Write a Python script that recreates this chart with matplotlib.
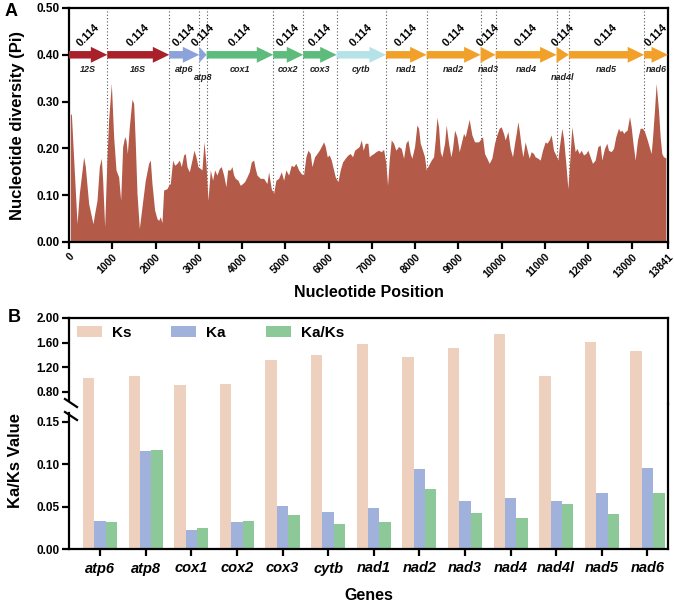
import matplotlib
matplotlib.use("Agg")
import matplotlib.pyplot as plt
from matplotlib.patches import FancyArrow
from matplotlib.lines import Line2D

plt.rcParams['font.family'] = ['Liberation Sans', 'DejaVu Sans']
plt.rcParams['font.weight'] = 'bold'
plt.rcParams['axes.labelweight'] = 'bold'

# ---- Panel A : sliding window nucleotide diversity ----
pos = [31, 54, 185, 239, 339, 377, 454, 554, 593, 647, 701, 747, 778, 824, 878, 916, 978,
       1032, 1086, 1147, 1194, 1240, 1286, 1317, 1348, 1394, 1455, 1494, 1532, 1571, 1625,
       1686, 1763, 1840, 1879, 1917, 1979, 2033, 2071, 2110, 2148, 2187, 2264, 2302, 2341,
       2395, 2441, 2495, 2549, 2595, 2649, 2687, 2726, 2780, 2841, 2888, 2934, 2980, 3034,
       3072, 3119, 3165, 3211, 3265, 3319, 3365, 3419, 3473, 3519, 3573, 3627, 3665, 3727,
       3765, 3804, 3842, 3904, 3958, 4012, 4058, 4112, 4166, 4212, 4266, 4304, 4343, 4420,
       4497, 4574, 4612, 4674, 4728, 4781, 4843, 4905, 4959, 5012, 5074, 5136, 5190, 5243,
       5305, 5367, 5420, 5474, 5521, 5575, 5613, 5675, 5729, 5782, 5829, 5883, 5921, 5967,
       6013, 6060, 6114, 6152, 6214, 6268, 6321, 6383, 6445, 6499, 6552, 6599, 6653, 6706,
       6753, 6799, 6845, 6907, 6937, 6984, 7038, 7091, 7153, 7215, 7269, 7322, 7361, 7399,
       7446, 7500, 7553, 7615, 7677, 7731, 7784, 7831, 7885, 7923, 7985, 8039, 8077, 8116,
       8169, 8216, 8254, 8308, 8370, 8424, 8462, 8501, 8539, 8578, 8616, 8678, 8716, 8770,
       8824, 8862, 8909, 8963, 9016, 9063, 9117, 9155, 9247, 9309, 9371, 9463, 9525, 9555,
       9602, 9656, 9709, 9771, 9833, 9887, 9940, 9987, 10041, 10079, 10141, 10195, 10248,
       10295, 10333, 10372, 10402, 10449, 10487, 10541, 10587, 10633, 10680, 10734, 10772,
       10834, 10888, 10941, 11003, 11042, 11095, 11142, 11196, 11249, 11296, 11326, 11388,
       11427, 11480, 11527, 11557, 11619, 11658, 11696, 11735, 11788, 11835, 11889, 11942,
       11989, 12043, 12096, 12158, 12220, 12274, 12312, 12374, 12428, 12466, 12528, 12582,
       12635, 12697, 12736, 12774, 12820, 12851, 12897, 12951, 12990, 13028, 13082, 13136,
       13198, 13251, 13298, 13352, 13405, 13452, 13482, 13529, 13567, 13621, 13660, 13698,
       13737, 13790]
pi = [0.271, 0.275, 0.039, 0.104, 0.182, 0.161, 0.082, 0.039, 0.061, 0.089, 0.161, 0.179,
      0.132, 0.032, 0.182, 0.261, 0.339, 0.225, 0.154, 0.139, 0.089, 0.204, 0.225, 0.218,
      0.189, 0.246, 0.305, 0.296, 0.211, 0.104, 0.029, 0.075, 0.132, 0.168, 0.175, 0.125,
      0.068, 0.050, 0.046, 0.054, 0.041, 0.111, 0.114, 0.121, 0.125, 0.175, 0.164, 0.168,
      0.175, 0.161, 0.186, 0.189, 0.161, 0.150, 0.175, 0.196, 0.182, 0.161, 0.157, 0.154,
      0.214, 0.168, 0.089, 0.154, 0.132, 0.154, 0.143, 0.157, 0.161, 0.143, 0.118, 0.154,
      0.154, 0.161, 0.143, 0.136, 0.132, 0.121, 0.125, 0.129, 0.139, 0.150, 0.171, 0.175,
      0.157, 0.143, 0.136, 0.136, 0.125, 0.150, 0.114, 0.104, 0.132, 0.136, 0.150, 0.132,
      0.154, 0.143, 0.164, 0.161, 0.168, 0.154, 0.146, 0.143, 0.182, 0.196, 0.189, 0.161,
      0.182, 0.189, 0.196, 0.204, 0.214, 0.204, 0.182, 0.186, 0.175, 0.154, 0.139, 0.129,
      0.154, 0.171, 0.179, 0.186, 0.189, 0.182, 0.196, 0.200, 0.204, 0.218, 0.196, 0.211,
      0.211, 0.182, 0.186, 0.189, 0.193, 0.196, 0.193, 0.198, 0.168, 0.121, 0.175, 0.218,
      0.211, 0.196, 0.204, 0.200, 0.179, 0.211, 0.218, 0.189, 0.179, 0.204, 0.250, 0.243,
      0.211, 0.196, 0.182, 0.154, 0.164, 0.175, 0.182, 0.218, 0.266, 0.246, 0.193, 0.182,
      0.211, 0.250, 0.211, 0.182, 0.200, 0.239, 0.225, 0.193, 0.211, 0.232, 0.225, 0.262,
      0.229, 0.214, 0.214, 0.221, 0.225, 0.189, 0.179, 0.168, 0.179, 0.211, 0.229, 0.243,
      0.246, 0.232, 0.218, 0.236, 0.200, 0.182, 0.211, 0.232, 0.257, 0.239, 0.204, 0.182,
      0.214, 0.196, 0.179, 0.193, 0.189, 0.182, 0.179, 0.175, 0.196, 0.214, 0.211, 0.218,
      0.229, 0.196, 0.186, 0.175, 0.200, 0.243, 0.221, 0.168, 0.114, 0.154, 0.246, 0.218,
      0.193, 0.200, 0.189, 0.196, 0.186, 0.189, 0.196, 0.182, 0.168, 0.175, 0.204, 0.207,
      0.175, 0.200, 0.211, 0.196, 0.193, 0.200, 0.225, 0.243, 0.236, 0.239, 0.232, 0.236,
      0.239, 0.268, 0.246, 0.214, 0.175, 0.218, 0.243, 0.243, 0.236, 0.221, 0.204, 0.189,
      0.221, 0.282, 0.339, 0.282, 0.225, 0.189, 0.182, 0.180]

genes_a = ['12S', '16S', 'atp6', 'atp8', 'cox1', 'cox2', 'cox3', 'cytb', 'nad1', 'nad2',
           'nad3', 'nad4', 'nad4l', 'nad5', 'nad6']
gene_start = [0, 885, 2317, 3010, 3180, 4719, 5412, 6184, 7323, 8263, 9510, 9857, 11266,
              11550, 13290]
gene_end = [885, 2317, 3010, 3180, 4719, 5412, 6184, 7323, 8263, 9510, 9857, 11266, 11550,
            13290, 13841]
gene_pi = [0.114] * 15
gene_colors = ['#A8202A', '#A8202A', '#8CA2DA', '#8CA2DA', '#5DBB7B', '#5DBB7B', '#5DBB7B',
               '#B4E2E6', '#F1A02A', '#F1A02A', '#F1A02A', '#F1A02A', '#F1A02A', '#F1A02A',
               '#F1A02A']
xticks_a = [0, 1000, 2000, 3000, 4000, 5000, 6000, 7000, 8000, 9000, 10000, 11000, 12000,
            13000, 13841]

# ---- Panel B : Ka / Ks ----
genes_b = ['atp6', 'atp8', 'cox1', 'cox2', 'cox3', 'cytb', 'nad1', 'nad2', 'nad3', 'nad4',
           'nad4l', 'nad5', 'nad6']
ks = [1.03, 1.05, 0.91, 0.93, 1.32, 1.40, 1.57, 1.36, 1.51, 1.74, 1.05, 1.61, 1.47]
ka = [0.0332, 0.1152, 0.0227, 0.0313, 0.0508, 0.0434, 0.0484, 0.0941, 0.0566, 0.0598,
      0.0566, 0.0664, 0.0953]
kaks = [0.0316, 0.1164, 0.0246, 0.0332, 0.0402, 0.0297, 0.0313, 0.0703, 0.0418, 0.0359,
        0.0535, 0.0414, 0.0660]

W, H = 674, 604
fig = plt.figure(figsize=(W / 100, H / 100), dpi=100)


def box(l, t, r, b):
    return [l / W, 1 - b / H, (r - l) / W, (b - t) / H]


# ---------------- A ----------------
ax = fig.add_axes(box(69, 8, 668, 242))
for x in gene_start[1:]:
    ax.plot([x, x], [0, 0.5], ls=(0, (1, 2)), color='#555555', lw=0.8, zorder=1)
ax.fill_between(pos, pi, color='#B35A48', lw=0, zorder=2)
for i, g in enumerate(genes_a):
    s, e = gene_start[i], gene_end[i]
    L = e - s
    hl = min(380, L)
    ax.add_patch(FancyArrow(s, 0.40, L, 0, width=0.016, head_width=0.034,
                            head_length=hl, length_includes_head=True,
                            color=gene_colors[i], lw=0, zorder=3))
    mid = (s + e) / 2
    ax.text(mid, 0.442, '%.3f' % gene_pi[i], rotation=45, ha='center', va='center',
            fontsize=8, fontweight='bold')
    ly = 0.352 if g in ('atp8', 'nad4l') else 0.368
    ax.text(mid, ly, g, ha='center', va='center', fontsize=6.5, fontstyle='italic',
            fontweight='bold', color='#222222')
ax.set_xlim(0, 13841)
ax.set_ylim(0, 0.5)
ax.set_xticks(xticks_a)
ax.set_xticklabels([str(t) for t in xticks_a], rotation=45, ha='right',
                   rotation_mode='anchor', fontsize=7.5)
ax.set_yticks([0, 0.1, 0.2, 0.3, 0.4, 0.5])
ax.set_yticklabels(['%.2f' % v for v in [0, 0.1, 0.2, 0.3, 0.4, 0.5]], fontsize=8.5)
for sp in ax.spines.values():
    sp.set_linewidth(1.6)
ax.tick_params(width=1.6, length=5, pad=2)
ax.set_xlabel('Nucleotide Position', fontsize=11.5, labelpad=4)
ax.set_ylabel('Nucleotide diversity (Pi)', fontsize=12, labelpad=8)
fig.text(5 / W, 1 - 12 / H, 'A', fontsize=13, fontweight='bold', va='center')

# ---------------- B ----------------
x = list(range(len(genes_b)))
bw = 0.25
c_ks, c_ka, c_kaks = '#EED0BE', '#A0B2DC', '#8CC898'
axu = fig.add_axes(box(69, 318, 668, 404))
axl = fig.add_axes(box(69, 404, 668, 549))
for a in (axu, axl):
    a.bar([i - bw for i in x], ks, bw, color=c_ks, label='Ks')
    a.bar(x, ka, bw, color=c_ka, label='Ka')
    a.bar([i + bw for i in x], kaks, bw, color=c_kaks, label='Ka/Ks')
    a.set_xlim(-0.68, 12.45)
    for sp in a.spines.values():
        sp.set_linewidth(1.6)
    a.tick_params(width=1.6, length=5, pad=2, labelsize=8.5)

axu.set_ylim(0.6, 2.0)
axu.set_yticks([0.8, 1.2, 1.6, 2.0])
axu.set_yticklabels(['0.80', '1.20', '1.60', '2.00'])
axu.spines['bottom'].set_visible(False)
axu.tick_params(axis='x', bottom=False, labelbottom=False)
axu.spines['left'].set_bounds(0.66, 2.0)
axu.legend(loc='center left', bbox_to_anchor=(0.013, 0.83), ncol=3, frameon=False,
           fontsize=11, handlelength=1.65, handletextpad=0.65, columnspacing=2.6,
           borderaxespad=0, borderpad=0)

axl.set_ylim(0, 0.1706)
axl.set_yticks([0, 0.05, 0.10, 0.15])
axl.set_yticklabels(['0.00', '0.05', '0.10', '0.15'])
axl.spines['top'].set_visible(False)
axl.spines['left'].set_bounds(0, 0.16)
axl.set_xticks(x)
axl.set_xticklabels(genes_b, fontstyle='italic', fontsize=10.5)
axl.tick_params(axis='x', pad=4)
axl.set_xlabel('Genes', fontsize=11.5, labelpad=9)

# break marks on the left axis
for yc in (403, 416):
    fig.add_artist(Line2D([(65) / W, (77) / W], [1 - (yc - 4) / H, 1 - (yc + 4) / H],
                          color='black', lw=1.6, transform=fig.transFigure))

fig.text(15 / W, 1 - 460 / H, 'Ka/Ks Value', rotation=90, fontsize=12, fontweight='bold',
         ha='center', va='center')
fig.text(8 / W, 1 - 318 / H, 'B', fontsize=13, fontweight='bold', va='center')

fig.savefig('out.png', dpi=100)
